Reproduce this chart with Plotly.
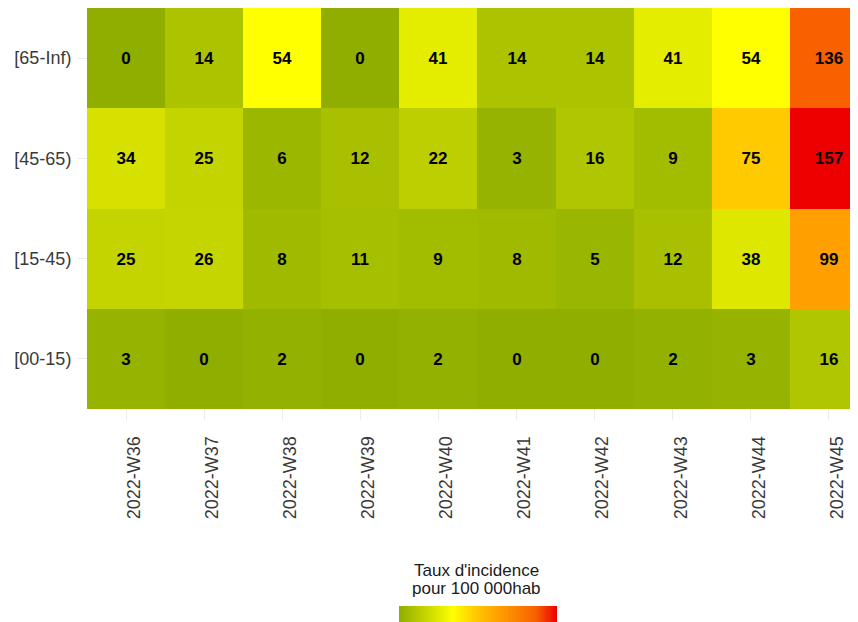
import plotly.graph_objects as go

weeks = ["2022-W36", "2022-W37", "2022-W38", "2022-W39", "2022-W40",
         "2022-W41", "2022-W42", "2022-W43", "2022-W44", "2022-W45"]
age_groups = ["[00-15)", "[15-45)", "[45-65)", "[65-Inf)"]
rate_00_15 = [3, 0, 2, 0, 2, 0, 0, 2, 3, 16]
rate_15_45 = [25, 26, 8, 11, 9, 8, 5, 12, 38, 99]
rate_45_65 = [34, 25, 6, 12, 22, 3, 16, 9, 75, 157]
rate_65_inf = [0, 14, 54, 0, 41, 14, 14, 41, 54, 136]

z = [rate_00_15, rate_15_45, rate_45_65, rate_65_inf]
zmax = 157
cs = [[0, "#8FAE00"], [54 / zmax, "#FFFF00"], [75 / zmax, "#FFCB00"],
      [99 / zmax, "#FFA000"], [136 / zmax, "#F86000"], [1, "#EE0000"]]

# page body has an 8px margin; figure is sized to fit the window
W, H = 850, 614
PL, PB = 70, 412  # plot-area left / bottom in figure pixels
PW = W - PL

fig = go.Figure(go.Heatmap(
    x=weeks, y=age_groups, z=z, colorscale=cs, zmin=0, zmax=zmax,
    text=[[str(v) for v in row] for row in z], texttemplate="<b>%{text}</b>",
    textfont=dict(size=17, color="black", family="Liberation Sans, Arial"),
    hoverinfo="skip",
    colorbar=dict(orientation="h", xref="container", yref="container",
                  x=512 / W, xanchor="center", y=16 / H, yanchor="top",
                  lenmode="pixels", len=158, thickness=20,
                  outlinewidth=0, showticklabels=False, ticks="",
                  xpad=0, ypad=0),
))

cx = (469 - PL) / PW
fig.add_annotation(text="Taux d'incidence", xref="paper", yref="paper",
                   x=cx, y=-(574 - PB) / PB, yanchor="bottom",
                   showarrow=False, font=dict(size=17, color="#1a1a1a"))
fig.add_annotation(text="pour 100 000hab", xref="paper", yref="paper",
                   x=cx, y=-(592 - PB) / PB, yanchor="bottom",
                   showarrow=False, font=dict(size=17, color="#1a1a1a"))

fig.update_layout(
    width=W, height=H,
    margin=dict(l=PL, r=0, t=0, b=H - PB),
    plot_bgcolor="white", paper_bgcolor="white",
    font=dict(family="Liberation Sans, Arial", color="#3a3a3a"),
    xaxis=dict(range=[-0.615, 9.372], tickangle=-90, showgrid=True,
               gridcolor="#EBEBEB", gridwidth=1, zeroline=False,
               tickfont=dict(size=18, color="#3a3a3a"), ticks="outside",
               ticklen=8, tickcolor="rgba(0,0,0,0)", ticklabelshift=8),
    yaxis=dict(range=[-0.61, 3.5], showgrid=True, gridcolor="#EBEBEB",
               gridwidth=1, zeroline=False,
               tickfont=dict(size=18, color="#3a3a3a"), ticks="outside",
               ticklen=2, tickcolor="rgba(0,0,0,0)"),
)

fig.write_html("out.html")
